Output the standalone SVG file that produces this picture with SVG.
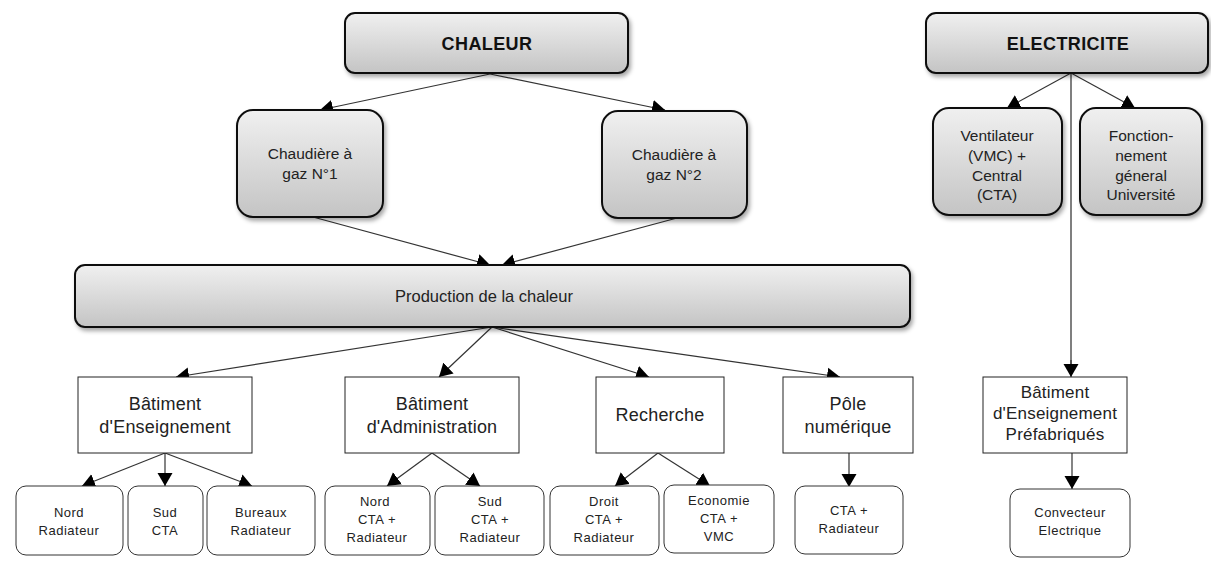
<svg xmlns="http://www.w3.org/2000/svg" width="1211" height="572" viewBox="0 0 1211 572">
<defs>
<linearGradient id="g" x1="0" y1="0" x2="0" y2="1">
<stop offset="0" stop-color="#f0f0f0"/>
<stop offset="1" stop-color="#c4c4c4"/>
</linearGradient>
<filter id="sh" x="-10%" y="-20%" width="120%" height="150%">
<feDropShadow dx="2" dy="3" stdDeviation="2" flood-color="#000" flood-opacity="0.35"/>
</filter>
<marker id="ah" markerUnits="userSpaceOnUse" markerWidth="14" markerHeight="16" refX="13" refY="8" orient="auto">
<path d="M0,0.5 L13,8 L0,15.5 z" fill="#000"/>
</marker>
<style>
.gb{fill:url(#g);stroke:#111;stroke-width:2;filter:url(#sh)}
.pb{fill:#fff;stroke:#222;stroke-width:1}
.rb{fill:#fff;stroke:#333;stroke-width:1}
text{font-family:"Liberation Sans",Arial,sans-serif;fill:#222;text-anchor:middle}
.t1{font-size:18px;font-weight:bold;fill:#111;letter-spacing:0.4px}
.t2{font-size:15.5px}
.t3{font-size:18px;letter-spacing:0.2px}
.t4{font-size:13px;letter-spacing:0.5px}
.c{fill:none;stroke:#333;stroke-width:1.2;marker-end:url(#ah)}
.cv{fill:none;stroke:#555;stroke-width:1.5}
</style>
</defs>
<g id="connectors">
<line class="c" x1="490" y1="74" x2="320" y2="110"/>
<line class="c" x1="490" y1="74" x2="665" y2="110"/>
<line class="c" x1="313" y1="217" x2="490" y2="265"/>
<line class="c" x1="677" y1="218" x2="502" y2="265"/>
<line class="c" x1="492" y1="327" x2="176" y2="377"/>
<line class="c" x1="492" y1="327" x2="439" y2="377"/>
<line class="c" x1="492" y1="327" x2="649" y2="377"/>
<line class="c" x1="492" y1="327" x2="840" y2="377"/>
<line class="c" x1="165" y1="453" x2="82" y2="486"/>
<line class="c" x1="165" y1="453" x2="165" y2="486"/>
<line class="c" x1="165" y1="453" x2="252" y2="486"/>
<line class="c" x1="432" y1="453" x2="387" y2="486"/>
<line class="c" x1="432" y1="453" x2="480" y2="486"/>
<line class="c" x1="658" y1="453" x2="615" y2="486"/>
<line class="c" x1="658" y1="453" x2="710" y2="486"/>
<line class="c" x1="849" y1="453" x2="849" y2="487"/>
<line class="c" x1="1071" y1="73" x2="1007" y2="108"/>
<line class="c" x1="1071" y1="73" x2="1135" y2="108"/>
<line class="cv" x1="1071" y1="73" x2="1071" y2="365"/>
<line class="c" x1="1071" y1="360" x2="1071" y2="377"/>
<line class="c" x1="1072" y1="453" x2="1072" y2="489"/>
</g>
<g id="chaleur"><rect class="gb" x="345" y="13" width="283" height="60" rx="10"/><text class="t1" x="487" y="50">CHALEUR</text></g>
<g id="electricite"><rect class="gb" x="926" y="13" width="282" height="60" rx="10"/><text class="t1" x="1068" y="50">ELECTRICITE</text></g>
<g id="chaudiere1"><rect class="gb" x="237" y="110" width="146" height="107" rx="16"/><text class="t2" x="310" y="159">Chaudière à</text><text class="t2" x="310" y="179">gaz N°1</text></g>
<g id="chaudiere2"><rect class="gb" x="602" y="111" width="145" height="107" rx="16"/><text class="t2" x="674" y="160">Chaudière à</text><text class="t2" x="674" y="180">gaz N°2</text></g>
<g id="ventilateur"><rect class="gb" x="933" y="108" width="129" height="107" rx="16"/><text class="t2" x="997" y="141">Ventilateur</text><text class="t2" x="997" y="161">(VMC) +</text><text class="t2" x="997" y="181">Central</text><text class="t2" x="997" y="200">(CTA)</text></g>
<g id="fonctionnement"><rect class="gb" x="1080" y="108" width="122" height="107" rx="16"/><text class="t2" x="1141" y="141">Fonction-</text><text class="t2" x="1141" y="161">nement</text><text class="t2" x="1141" y="181">géneral</text><text class="t2" x="1141" y="200">Université</text></g>
<g id="production"><rect class="gb" x="75" y="265" width="835" height="62" rx="10"/><text class="t2" x="484" y="302" style="font-size:16.5px">Production de la chaleur</text></g>
<g id="bat-enseignement"><rect class="pb" x="78" y="377" width="174" height="76"/><text class="t3" x="165" y="410">Bâtiment</text><text class="t3" x="165" y="433">d'Enseignement</text></g>
<g id="bat-administration"><rect class="pb" x="345" y="377" width="174" height="76"/><text class="t3" x="432" y="410">Bâtiment</text><text class="t3" x="432" y="433">d'Administration</text></g>
<g id="recherche"><rect class="pb" x="596" y="377" width="128" height="76"/><text class="t3" x="660" y="421">Recherche</text></g>
<g id="pole"><rect class="pb" x="783" y="377" width="130" height="76"/><text class="t3" x="848" y="410">Pôle</text><text class="t3" x="848" y="433">numérique</text></g>
<g id="bat-prefab"><rect class="pb" x="983" y="377" width="144" height="76"/><text class="t3" x="1055" y="398" style="font-size:17px">Bâtiment</text><text class="t3" x="1055" y="419" style="font-size:17px">d'Enseignement</text><text class="t3" x="1055" y="440" style="font-size:17px">Préfabriqués</text></g>
<g id="nord-rad"><rect class="rb" x="16" y="486" width="107" height="69" rx="10"/><text class="t4" x="69" y="517">Nord</text><text class="t4" x="69" y="535">Radiateur</text></g>
<g id="sud-cta"><rect class="rb" x="128" y="486" width="75" height="69" rx="10"/><text class="t4" x="165" y="517">Sud</text><text class="t4" x="165" y="535">CTA</text></g>
<g id="bureaux"><rect class="rb" x="207" y="486" width="108" height="69" rx="10"/><text class="t4" x="261" y="517">Bureaux</text><text class="t4" x="261" y="535">Radiateur</text></g>
<g id="nord-cta"><rect class="rb" x="325" y="486" width="105" height="69" rx="10"/><text class="t4" x="375" y="506">Nord</text><text class="t4" x="377" y="524">CTA +</text><text class="t4" x="377" y="542">Radiateur</text></g>
<g id="sud-cta-rad"><rect class="rb" x="435" y="486" width="109" height="69" rx="10"/><text class="t4" x="490" y="506">Sud</text><text class="t4" x="490" y="524">CTA +</text><text class="t4" x="490" y="542">Radiateur</text></g>
<g id="droit"><rect class="rb" x="550" y="486" width="109" height="69" rx="10"/><text class="t4" x="604" y="506">Droit</text><text class="t4" x="604" y="524">CTA +</text><text class="t4" x="604" y="542">Radiateur</text></g>
<g id="economie"><rect class="rb" x="664" y="485" width="110" height="68" rx="10"/><text class="t4" x="719" y="505">Economie</text><text class="t4" x="719" y="523">CTA +</text><text class="t4" x="719" y="541">VMC</text></g>
<g id="pole-cta"><rect class="rb" x="795" y="486" width="108" height="68" rx="10"/><text class="t4" x="849" y="515">CTA +</text><text class="t4" x="849" y="533">Radiateur</text></g>
<g id="convecteur"><rect class="rb" x="1010" y="489" width="120" height="68" rx="10"/><text class="t4" x="1070" y="517">Convecteur</text><text class="t4" x="1070" y="535">Electrique</text></g>
</svg>
